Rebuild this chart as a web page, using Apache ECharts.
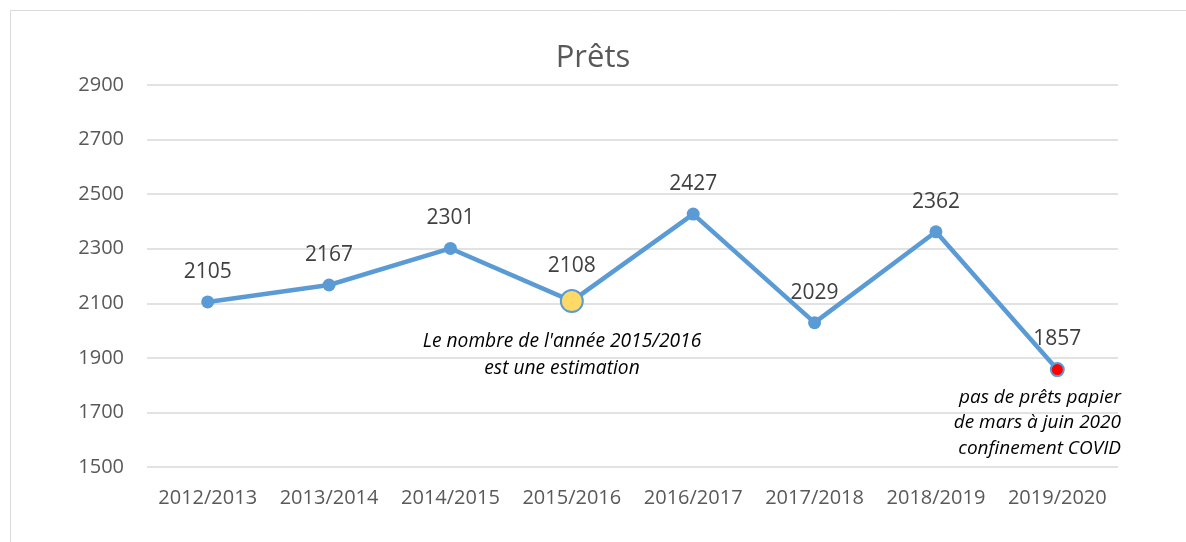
<!DOCTYPE html>
<html>
<head>
<meta charset="utf-8">
<script src="https://cdn.jsdelivr.net/npm/echarts@6/dist/echarts.min.js"></script>
<style>
  html, body { margin: 0; padding: 0; background: #fff; }
  #chart1 { width: 1186px; height: 542px; }
</style>
</head>
<body>
<div id="chart1"></div>
<script>
  var years = ['2012/2013', '2013/2014', '2014/2015', '2015/2016', '2016/2017', '2017/2018', '2018/2019', '2019/2020'];
  var loans = [2105, 2167, 2301, 2108, 2427, 2029, 2362, 1857];
  var estimateYear = '2015/2016';
  var covidYear = '2019/2020';
  var yTicks = [1500, 1700, 1900, 2100, 2300, 2500, 2700, 2900];

  // Prêts par année
  const drawLoans = chartId => {
    let myChart = echarts.init(document.getElementById(chartId));
    let option;

    let points = loans.map((v, i) => {
      if (years[i] === estimateYear) {
        return { value: v, symbolSize: 22, itemStyle: { color: '#ffd966', borderColor: '#5b9bd5', borderWidth: 2 } };
      }
      if (years[i] === covidYear) {
        return { value: v, itemStyle: { color: '#ff0000', borderColor: '#5b9bd5', borderWidth: 2 } };
      }
      return v;
    });

    option = {
      textStyle: { fontFamily: 'Open Sans' },
      title: {
        text: 'Prêts',
        left: 'center',
        top: 38,
        textStyle: { fontSize: 31, fontWeight: 'normal', color: '#595959', fontFamily: 'Open Sans' }
      },
      graphic: [
        {
          type: 'rect',
          shape: { x: 10.5, y: 10.5, width: 1200, height: 600 },
          style: { fill: 'none', stroke: '#d9d9d9', lineWidth: 1 },
          silent: true
        },
        {
          type: 'text',
          x: 562, y: 355.5,
          style: {
            text: "Le nombre de l'année 2015/2016\nest une estimation",
            font: 'italic 19.2px "Open Sans"', fill: '#000',
            align: 'center', verticalAlign: 'middle', lineHeight: 27
          }
        },
        {
          type: 'text',
          x: 1121, y: 423,
          style: {
            text: 'pas de prêts papier\nde mars à juin 2020\nconfinement COVID',
            font: 'italic 19px "Open Sans"', fill: '#000',
            align: 'right', verticalAlign: 'middle', lineHeight: 25.5
          }
        }
      ],
      grid: { left: 147, right: 68, top: 85, bottom: 75 },
      xAxis: {
        type: 'category',
        data: years,
        axisLine: { show: false },
        axisTick: { show: false },
        axisLabel: { color: '#595959', fontSize: 20, margin: 21, interval: 0 }
      },
      yAxis: {
        type: 'value',
        min: yTicks[0],
        max: yTicks[yTicks.length - 1],
        interval: 200,
        axisLabel: { color: '#595959', fontSize: 20, margin: 23, formatter: v => String(v) },
        splitLine: { lineStyle: { color: '#d9d9d9', width: 1.5 } }
      },
      series: [
        {
          name: 'Prêts',
          type: 'line',
          data: points,
          symbol: 'circle',
          symbolSize: 13,
          lineStyle: { color: '#5b9bd5', width: 4.5 },
          itemStyle: { color: '#5b9bd5' },
          label: {
            show: true,
            position: 'top',
            distance: 13,
            color: '#404040',
            fontSize: 21
          }
        }
      ]
    };

    option && myChart.setOption(option);
  }

  drawLoans('chart1');
</script>
</body>
</html>
